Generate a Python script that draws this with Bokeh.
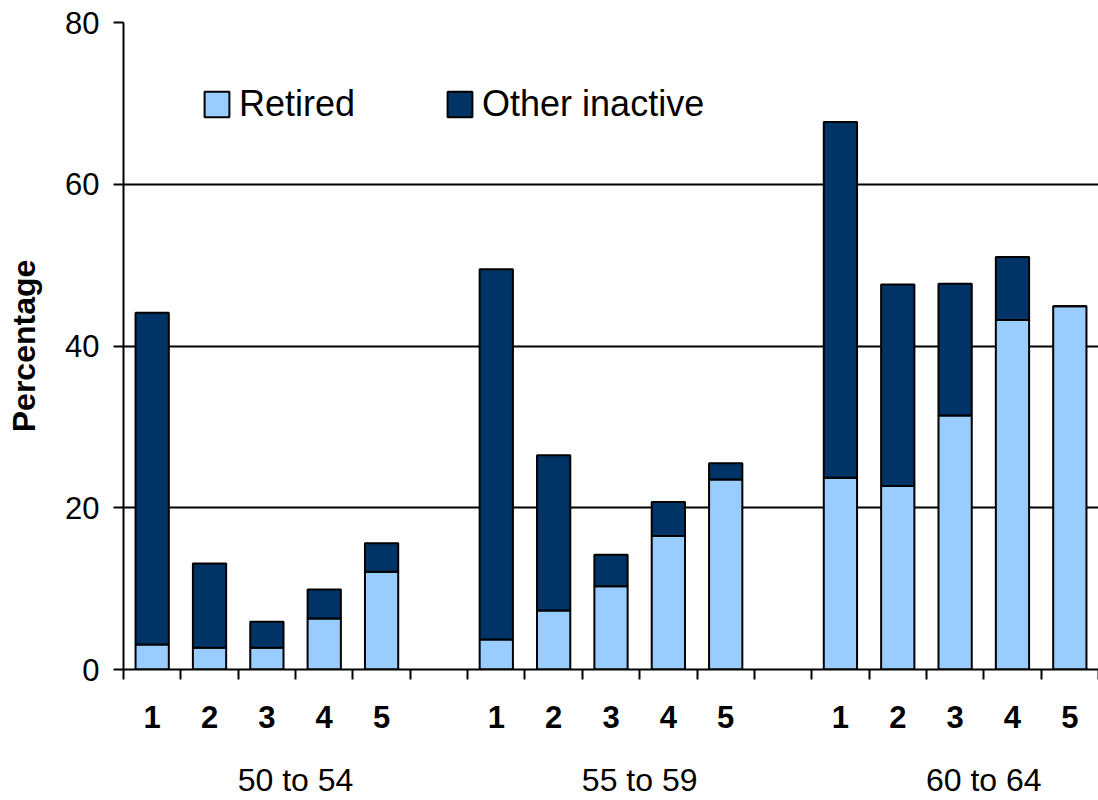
from bokeh.plotting import figure
from bokeh.models import Range1d, FixedTicker, Legend, LegendItem, LinearAxis, ColumnDataSource
from bokeh.embed import file_html
from bokeh.resources import INLINE

# Inactivity rates by age group and quintile (percent)
age_groups = ["50 to 54", "55 to 59", "60 to 64"]
quintiles = ["1", "2", "3", "4", "5"]
retired = [3.1, 2.7, 2.7, 6.3, 12.1,
           3.7, 7.3, 10.3, 16.5, 23.5,
           23.7, 22.7, 31.4, 43.2, 44.9]
other_inactive = [41.0, 10.4, 3.2, 3.6, 3.5,
                  45.8, 19.2, 3.9, 4.2, 2.0,
                  44.0, 24.9, 16.3, 7.8, 0.0]
y_ticks = [0, 20, 40, 60, 80]

LIGHT = "#99CCFF"
DARK = "#003366"
FONT = "Liberation Sans"

# each age group takes five bar slots plus one empty slot
slots_per_group = len(quintiles) + 1
n_slots = slots_per_group * len(age_groups) - 1
xs = [g * slots_per_group + i + 0.5
      for g in range(len(age_groups)) for i in range(len(quintiles))]
labels = [q for _ in age_groups for q in quintiles]
totals = [r + o for r, o in zip(retired, other_inactive)]
group_centers = [g * slots_per_group + slots_per_group / 2 for g in range(len(age_groups))]

src = ColumnDataSource(dict(x=xs, retired=retired, total=totals))

p = figure(width=1098, height=800,
           x_range=Range1d(0, n_slots), y_range=Range1d(0, 80),
           output_backend="svg", toolbar_location=None,
           min_border_left=123, min_border_right=0,
           min_border_top=22, min_border_bottom=131)
p.outline_line_color = None
p.background_fill_color = "white"
p.border_fill_color = "white"

r_ret = p.vbar(x="x", width=0.58, bottom=0, top="retired", source=src,
               fill_color=LIGHT, line_color="black", line_width=2)
r_oth = p.vbar(x="x", width=0.58, bottom="retired", top="total", source=src,
               fill_color=DARK, line_color="black", line_width=2)

# y axis
ya = p.yaxis[0]
ya.ticker = FixedTicker(ticks=y_ticks, minor_ticks=[])
ya.major_tick_out = 10
ya.major_tick_in = 0
ya.minor_tick_out = 0
ya.minor_tick_in = 0
ya.axis_line_color = "black"
ya.axis_line_width = 2
ya.major_tick_line_color = "black"
ya.major_tick_line_width = 2
ya.major_label_text_font = FONT
ya.major_label_text_font_size = "31px"
ya.major_label_text_color = "black"
ya.major_label_standoff = 14
ya.axis_label = "Percentage"
ya.axis_label_text_font = FONT
ya.axis_label_text_font_style = "bold"
ya.axis_label_text_font_size = "32px"
ya.axis_label_text_color = "black"
ya.axis_label_standoff = 20

# x axis: quintile numbers under bars, ticks on slot boundaries
xa = p.xaxis[0]
xa.ticker = FixedTicker(ticks=xs, minor_ticks=list(range(n_slots + 1)))
xa.major_label_overrides = {x: lab for x, lab in zip(xs, labels)}
xa.major_tick_out = 0
xa.major_tick_in = 0
xa.minor_tick_out = 10
xa.minor_tick_in = 0
xa.minor_tick_line_color = "black"
xa.minor_tick_line_width = 2
xa.axis_line_color = "black"
xa.axis_line_width = 2
xa.major_label_text_font = FONT
xa.major_label_text_font_style = "bold"
xa.major_label_text_font_size = "31px"
xa.major_label_text_color = "black"
xa.major_label_standoff = 26

# second row of the x axis: age groups
ga = LinearAxis(ticker=FixedTicker(ticks=group_centers, minor_ticks=[]))
ga.major_label_overrides = {c: name for c, name in zip(group_centers, age_groups)}
ga.axis_line_color = None
ga.major_tick_line_color = None
ga.minor_tick_line_color = None
ga.major_tick_out = 0
ga.major_tick_in = 0
ga.major_label_text_font = FONT
ga.major_label_text_font_size = "32px"
ga.major_label_text_color = "black"
ga.major_label_standoff = 31
p.add_layout(ga, "below")

p.xgrid.grid_line_color = None
p.ygrid.ticker = FixedTicker(ticks=y_ticks)
p.ygrid.grid_line_color = "black"
p.ygrid.grid_line_width = 2

legend = Legend(items=[LegendItem(label="Retired", renderers=[r_ret]),
                       LegendItem(label="Other inactive", renderers=[r_oth])],
                orientation="horizontal", location=(78, 544),
                glyph_width=31, glyph_height=32, label_standoff=7, spacing=89,
                padding=0, margin=0, border_line_color=None,
                background_fill_alpha=0,
                label_text_font=FONT, label_text_font_size="36px",
                label_text_color="black")
p.add_layout(legend)

open("out.html", "w").write(file_html(p, INLINE))
